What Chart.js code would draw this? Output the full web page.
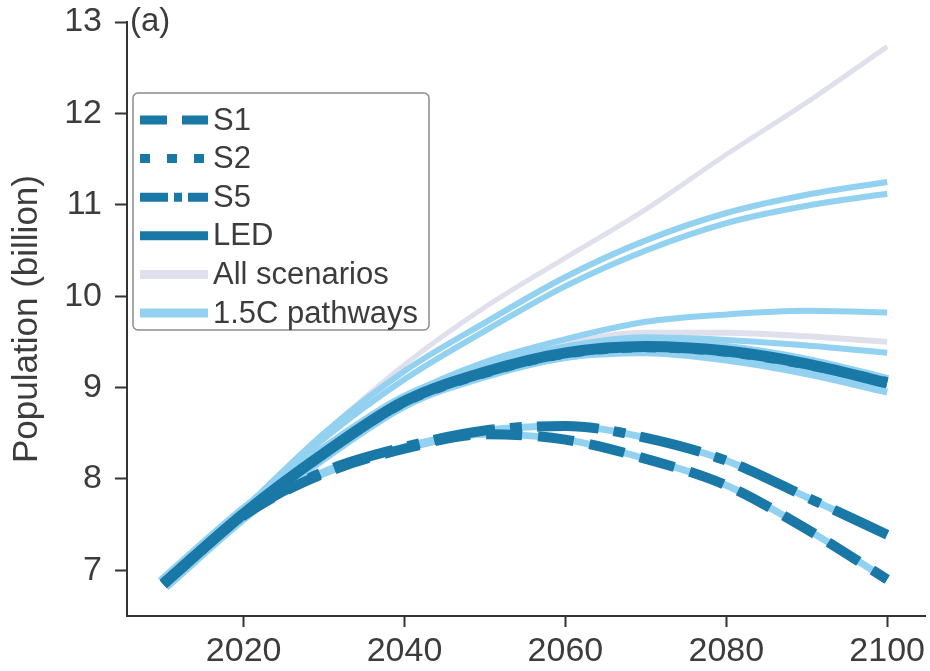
<!DOCTYPE html>
<html>
<head>
<meta charset="utf-8">
<script src="https://cdn.jsdelivr.net/npm/chart.js@4.4.1/dist/chart.umd.min.js"></script>
<style>
  html, body { margin:0; padding:0; background:#fff; }
  #wrap { width:930px; height:671px; }
</style>
</head>
<body>
<div id="wrap"><canvas id="popChart" width="930" height="671"></canvas></div>
<script>
// ---------- DATA ----------
const years  = [2010, 2020, 2030, 2040, 2050, 2060, 2070, 2080, 2090, 2100];
const xTicks = [2020, 2040, 2060, 2080, 2100];
const yTicks = [7, 8, 9, 10, 11, 12, 13];

// marker scenarios (billion)
const s1  = [6.85, 7.60, 8.06, 8.33, 8.49, 8.43, 8.22, 7.93, 7.45, 6.90];
const s2  = [6.85, 7.62, 8.28, 8.84, 9.16, 9.37, 9.44, 9.39, 9.25, 9.06];
const s5  = [6.85, 7.60, 8.08, 8.35, 8.53, 8.58, 8.45, 8.20, 7.80, 7.39];
const led = [6.85, 7.62, 8.28, 8.85, 9.17, 9.38, 9.45, 9.40, 9.26, 9.05];

// all scenarios (grey)
const allHigh = [6.85, 7.68, 8.50, 9.25, 9.88, 10.42, 10.95, 11.55, 12.12, 12.73];
const allMid  = [6.85, 7.63, 8.33, 8.88, 9.25, 9.48, 9.60, 9.60, 9.56, 9.50];

// 1.5C pathways (light blue)
const pwHighA = [6.85, 7.67, 8.50, 9.18, 9.71, 10.21, 10.61, 10.91, 11.11, 11.25];
const pwHighB = [6.85, 7.65, 8.44, 9.09, 9.62, 10.11, 10.50, 10.80, 10.99, 11.12];
const pwMid   = [6.85, 7.63, 8.35, 8.90, 9.28, 9.53, 9.72, 9.80, 9.84, 9.82];
const pwMid2  = [6.85, 7.63, 8.32, 8.87, 9.24, 9.45, 9.55, 9.52, 9.46, 9.38];
const pwLow   = [6.85, 7.61, 8.26, 8.82, 9.13, 9.33, 9.38, 9.30, 9.15, 8.95];

const legendLabels = ['S1', 'S2', 'S5', 'LED', 'All scenarios', '1.5C pathways'];

// ---------- STYLE ----------
const DARK  = '#1a78a6';
const LIGHT = '#93d1f0';
const GREY  = '#e0e0ec';
const INK   = '#3c3c3c';
const FONT  = "'Liberation Sans', Arial, Helvetica, sans-serif";

function sor(vals, color, width, dash){
  return {
    data: years.map((x, i) => ({ x: x, y: vals[i] })),
    borderColor: color,
    borderWidth: width,
    borderDash: dash || [],
    borderCapStyle: 'butt',
    pointRadius: 0,
    fill: false,
    cubicInterpolationMode: 'monotone'
  };
}

// first dataset is drawn on top
const datasets = [
  sor(s1,  DARK, 10, [36, 16]),
  sor(s5,  DARK, 10, [62, 15, 12, 15]),
  sor(led, DARK, 11),
  sor(s2,  DARK, 10, [10, 14]),
  sor(s1,  LIGHT, 7),
  sor(s5,  LIGHT, 7),
  sor(led, LIGHT, 16),
  sor(pwLow,   LIGHT, 7),
  sor(pwMid2,  LIGHT, 6),
  sor(pwMid,   LIGHT, 6),
  sor(pwHighA, LIGHT, 6),
  sor(pwHighB, LIGHT, 6),
  sor(allMid,  GREY, 6),
  sor(allHigh, GREY, 5)
];

// ---------- LEGEND (box inside the plot) ----------
const legendStyles = [
  { color: DARK,  dash: [27, 15] },
  { color: DARK,  dash: [10, 17] },
  { color: DARK,  dash: [28, 6, 8, 6] },
  { color: DARK,  dash: [] },
  { color: GREY,  dash: [] },
  { color: LIGHT, dash: [] }
];

const dobozLegend = {
  id: 'dobozLegend',
  afterDraw(chart){
    const ctx = chart.ctx;
    ctx.save();
    ctx.fillStyle = 'rgba(255,255,255,0.92)';
    ctx.strokeStyle = '#8c8c8c';
    ctx.lineWidth = 1.5;
    ctx.beginPath();
    ctx.roundRect(133, 93, 296, 237, 5);
    ctx.fill();
    ctx.stroke();

    legendLabels.forEach((txt, i) => {
      const y = 120 + i * 38.6;
      const st = legendStyles[i];
      ctx.strokeStyle = st.color;
      ctx.lineWidth = 9;
      ctx.lineCap = 'butt';
      ctx.setLineDash(st.dash);
      ctx.beginPath();
      ctx.moveTo(140, y);
      ctx.lineTo(208, y);
      ctx.stroke();
      ctx.setLineDash([]);
      ctx.fillStyle = INK;
      ctx.font = '31px ' + FONT;
      ctx.textAlign = 'left';
      ctx.textBaseline = 'middle';
      ctx.fillText(txt, 213, y + 1);
    });

    // panel letter
    ctx.fillStyle = INK;
    ctx.font = '33px ' + FONT;
    ctx.textAlign = 'left';
    ctx.textBaseline = 'middle';
    ctx.fillText('(a)', 130, chart.scales.y.getPixelForValue(13));
    ctx.restore();
  }
};

// ---------- CHART ----------
new Chart(document.getElementById('popChart').getContext('2d'), {
  type: 'line',
  data: { datasets: datasets },
  options: {
    responsive: false,
    animation: false,
    layout: { padding: { top: 22, right: 5, left: 0, bottom: 0 } },
    plugins: { legend: { display: false }, tooltip: { enabled: false } },
    scales: {
      x: {
        type: 'linear',
        min: 2005.5,
        max: 2104.7,
        afterBuildTicks: (s) => { s.ticks = xTicks.map(v => ({ value: v })); },
        afterFit: (s) => { s.height = 55; },
        grid: { display: true, drawOnChartArea: false, tickLength: 11, tickColor: '#333', tickWidth: 2 },
        border: { color: '#333', width: 2 },
        ticks: { color: INK, font: { family: FONT, size: 34 }, padding: 4, maxRotation: 0, autoSkip: false,
                 callback: (v) => String(v) }
      },
      y: {
        type: 'linear',
        min: 6.5,
        max: 13,
        afterBuildTicks: (s) => { s.ticks = yTicks.map(v => ({ value: v })); },
        afterFit: (s) => { s.width = 127; s.paddingTop = 0; s.paddingBottom = 0; },
        grid: { display: true, drawOnChartArea: false, tickLength: 12, tickColor: '#333', tickWidth: 2 },
        border: { color: '#333', width: 2 },
        ticks: { color: INK, font: { family: FONT, size: 34 }, padding: 13, autoSkip: false },
        title: { display: true, text: 'Population (billion)', color: INK,
                 font: { family: FONT, size: 35 }, padding: { top: 6, bottom: 0 } }
      }
    }
  },
  plugins: [dobozLegend]
});
</script>
</body>
</html>
